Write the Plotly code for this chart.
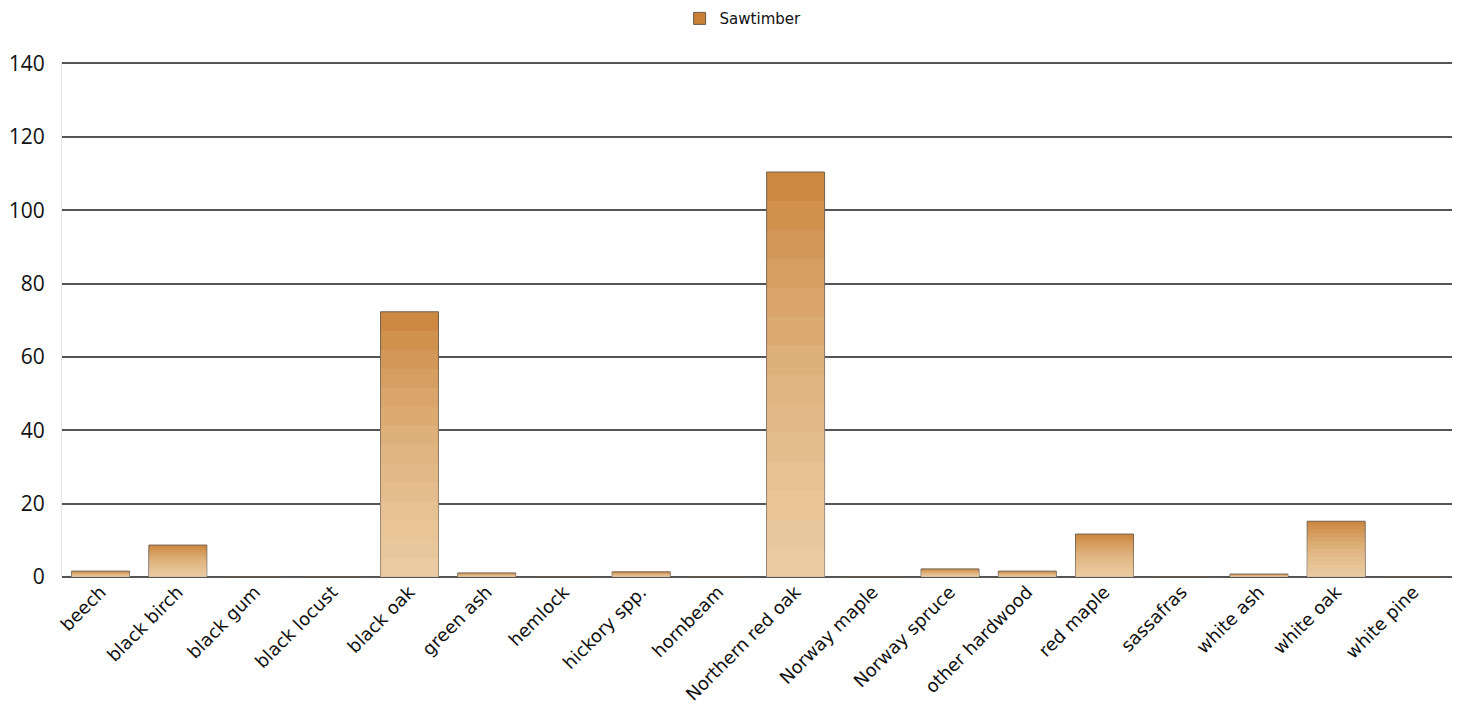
import plotly.graph_objects as go

categories = ["beech", "black birch", "black gum", "black locust", "black oak", "green ash",
              "hemlock", "hickory spp.", "hornbeam", "Northern red oak", "Norway maple",
              "Norway spruce", "other hardwood", "red maple", "sassafras", "white ash",
              "white oak", "white pine"]
sawtimber = [1.6, 8.7, 0, 0, 72.3, 1.1, 0, 1.4, 0, 110.4, 0, 2.2, 1.6, 11.7, 0, 0.8, 15.2, 0]
y_ticks = [0, 20, 40, 60, 80, 100, 120, 140]

fig = go.Figure()
fig.add_trace(go.Bar(
    x=categories, y=sawtimber, name="Sawtimber",
    marker=dict(color="#C98036", line=dict(color="#6b5a48", width=1)),
))
# light overlay layers to imitate the vertical gradient (lighter at the bottom)
n_layers = 14
for k in range(n_layers, 0, -1):
    frac = k / n_layers
    fig.add_trace(go.Bar(
        x=categories, y=[v * frac for v in sawtimber], showlegend=False, hoverinfo="skip",
        marker=dict(color="rgba(255,243,222,0.08)", line=dict(width=0)),
    ))

fig.update_layout(
    width=1465, height=711,
    margin=dict(l=62, r=13, t=62, b=134),
    paper_bgcolor="white", plot_bgcolor="white",
    barmode="overlay", bargap=0.25,
    showlegend=True,
    legend=dict(orientation="h", x=0.49, xanchor="center", y=0.997, yanchor="top",
                yref="container", font=dict(family="DejaVu Sans", size=15, color="#111"),
                itemwidth=30),
    font=dict(family="DejaVu Sans", color="#111"),
)
fig.update_xaxes(tickangle=-45, tickfont=dict(family="DejaVu Sans", size=18, color="#111"),
                 showgrid=False, showline=False, ticks="", automargin=False)
fig.update_yaxes(range=[0, 140.4], tickvals=y_ticks, showgrid=True, gridcolor="#555555", gridwidth=2,
                 zeroline=True, zerolinecolor="#555555", zerolinewidth=2,
                 showline=True, linecolor="#e6e6e6", linewidth=1, automargin=False,
                 tickfont=dict(family="Open Sans", size=21, color="#111"), ticks="", ticklabelstandoff=12)

fig.write_html("out.html")
